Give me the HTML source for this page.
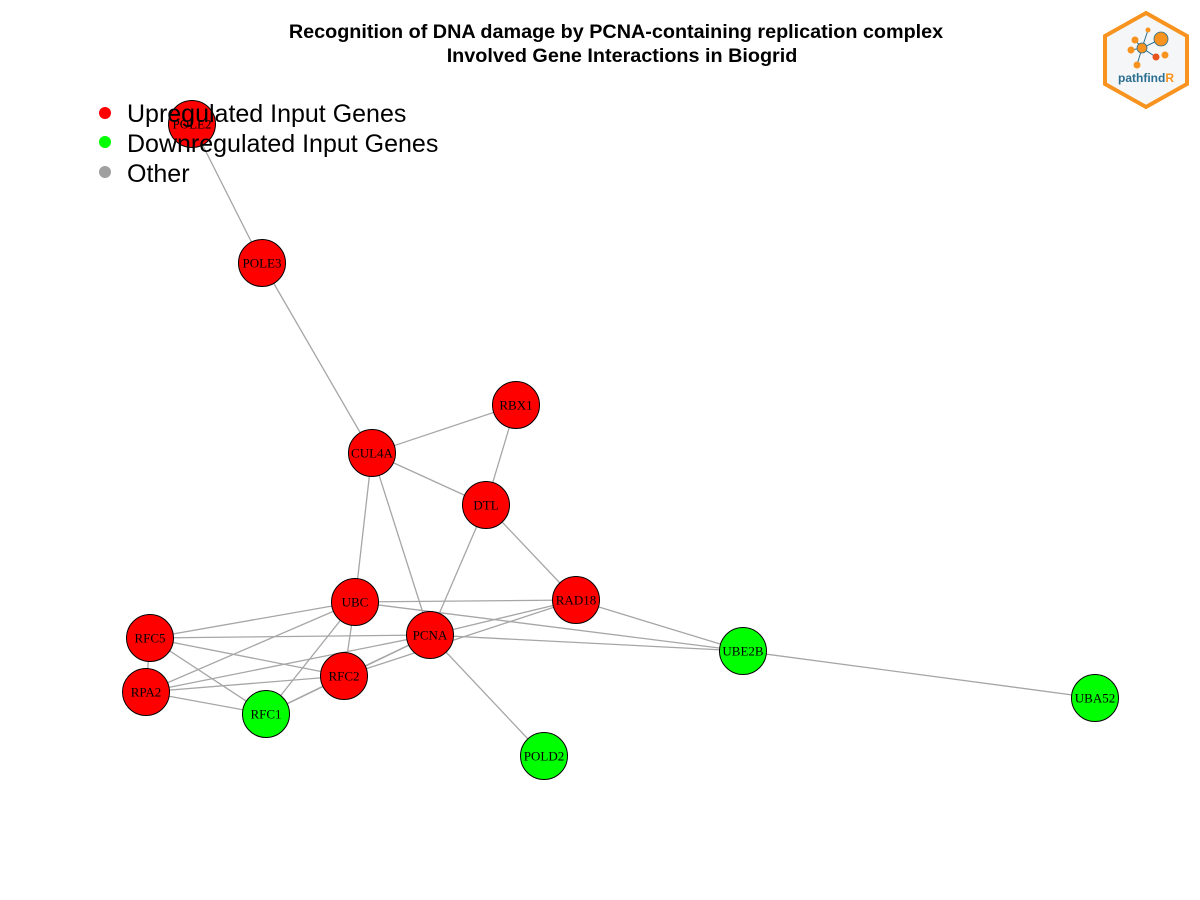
<!DOCTYPE html>
<html><head><meta charset="utf-8"><style>
body{margin:0;background:#fff;width:1200px;height:900px;overflow:hidden}
svg{display:block}
</style></head><body>
<svg id="chart" width="1200" height="900" xmlns="http://www.w3.org/2000/svg">
<text x="616" y="38" text-anchor="middle" font-family="Liberation Sans, sans-serif" font-weight="bold" font-size="19.8">Recognition of DNA damage by PCNA-containing replication complex</text>
<text x="622" y="62" text-anchor="middle" font-family="Liberation Sans, sans-serif" font-weight="bold" font-size="19.8">Involved Gene Interactions in Biogrid</text>
<g id="edges"></g>
<g id="nodes"></g>
<g font-family="Liberation Sans, sans-serif" font-size="25">
<circle cx="105" cy="113" r="6" fill="#ff0000"/><text x="127" y="122">Upregulated Input Genes</text>
<circle cx="105" cy="142" r="6" fill="#00ff00"/><text x="127" y="152">Downregulated Input Genes</text>
<circle cx="105" cy="172" r="6" fill="#a0a0a0"/><text x="127" y="182">Other</text>
</g>
<g>
<polygon points="1146,13 1187,36 1187,84 1146,107 1105,84 1105,36" fill="#f5f6f8" stroke="#f7931e" stroke-width="4"/>
<g stroke="#2a6f8f" stroke-width="1">
<line x1="1142" y1="48" x2="1161" y2="39"/><line x1="1142" y1="48" x2="1131" y2="50"/><line x1="1142" y1="48" x2="1135" y2="40"/><line x1="1142" y1="48" x2="1156" y2="57"/><line x1="1142" y1="48" x2="1137" y2="65"/><line x1="1142" y1="48" x2="1148" y2="30"/>
</g>
<circle cx="1161" cy="39" r="7" fill="#f7931e" stroke="#2a6f8f" stroke-width="0.8"/>
<circle cx="1142" cy="48" r="5" fill="#f7931e" stroke="#2a6f8f" stroke-width="0.8"/>
<circle cx="1131" cy="50" r="3.5" fill="#f7931e"/><circle cx="1135" cy="40" r="3.5" fill="#f7931e"/>
<circle cx="1156" cy="57" r="3.5" fill="#e8541c"/><circle cx="1165" cy="55" r="3.5" fill="#f7931e"/>
<circle cx="1137" cy="65" r="3.5" fill="#f7931e"/><circle cx="1148" cy="30" r="2.5" fill="#f7931e"/>
<text x="1146" y="82" text-anchor="middle" font-family="Liberation Sans, sans-serif" font-weight="bold" font-size="12" fill="#2a6f8f">pathfind<tspan fill="#f7931e">R</tspan></text>
</g>
</svg>
<script>
const geneNames = ["POLE2","POLE3","RBX1","CUL4A","DTL","UBC","RAD18","PCNA","RFC5","RPA2","RFC2","RFC1","UBE2B","UBA52","POLD2"];
const geneX = [192,262,516,372,486,355,576,430,150,146,344,266,743,1095,544];
const geneY = [124,263,405,453,505,602,600,635,638,692,676,714,651,698,756];
const geneStatus = ["up","up","up","up","up","up","up","up","up","up","up","down","down","down","down"];
const interactions = [
["POLE2","POLE3"],["POLE3","CUL4A"],["CUL4A","RBX1"],["CUL4A","DTL"],["RBX1","DTL"],["CUL4A","UBC"],["CUL4A","PCNA"],
["DTL","PCNA"],["DTL","RAD18"],["RAD18","UBE2B"],["UBE2B","UBA52"],["PCNA","POLD2"],["PCNA","UBE2B"],["UBC","UBE2B"],
["UBC","RAD18"],["PCNA","RAD18"],["RFC2","RAD18"],["RFC5","UBC"],["RFC5","PCNA"],["RFC5","RFC2"],["RFC5","RFC1"],["RFC5","RPA2"],
["RPA2","UBC"],["RPA2","PCNA"],["RPA2","RFC2"],["RPA2","RFC1"],["RFC1","UBC"],["RFC1","RFC2"],["RFC1","PCNA"],["UBC","RFC2"],["RFC2","PCNA"]
];
const NS="http://www.w3.org/2000/svg";
const eg=document.getElementById('edges'), ng=document.getElementById('nodes');
const idx=n=>geneNames.indexOf(n);
interactions.forEach(([a,b])=>{
  const l=document.createElementNS(NS,'line');
  l.setAttribute('x1',geneX[idx(a)]);l.setAttribute('y1',geneY[idx(a)]);
  l.setAttribute('x2',geneX[idx(b)]);l.setAttribute('y2',geneY[idx(b)]);
  l.setAttribute('stroke','#a6a6a6');l.setAttribute('stroke-width','1.3');
  
  
  eg.appendChild(l);
});
geneNames.forEach((n,i)=>{
  const g=document.createElementNS(NS,'g');
  
  
  const c=document.createElementNS(NS,'circle');
  c.setAttribute('cx',geneX[i]);c.setAttribute('cy',geneY[i]);c.setAttribute('r',23.5);
  c.setAttribute('fill',geneStatus[i]==='up'?'#ff0000':'#00ff00');c.setAttribute('stroke','#000');c.setAttribute('stroke-width','1');
  const t=document.createElementNS(NS,'text');
  t.setAttribute('x',geneX[i]);t.setAttribute('y',geneY[i]+4.5);t.setAttribute('text-anchor','middle');
  t.setAttribute('font-family','Liberation Serif, serif');t.setAttribute('font-size','13');
  t.textContent=n;
  g.appendChild(c);g.appendChild(t);ng.appendChild(g);
});
</script>
</body></html>
